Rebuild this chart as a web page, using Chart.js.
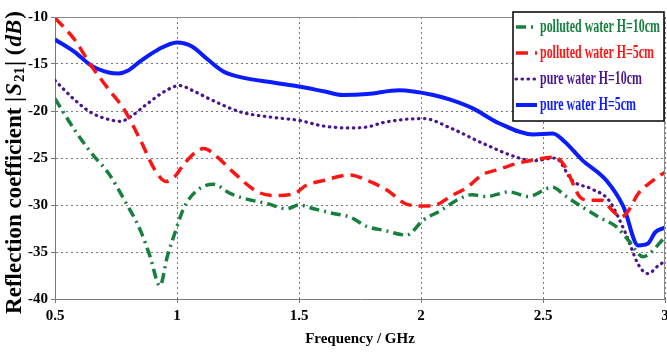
<!DOCTYPE html>
<html>
<head>
<meta charset="utf-8">
<script src="https://cdn.jsdelivr.net/npm/chart.js@4.4.1/dist/chart.umd.min.js"></script>
<style>
  body { margin: 0; background: #fff; }
  #wrap { width: 667px; height: 352px; }
</style>
</head>
<body>
<div id="wrap"><canvas id="myChart" width="667" height="352"></canvas></div>
<script>
// tick labels
const xTicks = [0.5, 1, 1.5, 2, 2.5, 3];
const yTicks = [-10, -15, -20, -25, -30, -35, -40];

// polluted water H=10cm
const freqGreen = [0.5,0.58,0.65,0.72,0.785,0.85,0.89,0.93,0.96,0.995,1.03,1.085,1.15,1.22,1.29,1.37,1.45,1.5,1.56,1.64,1.71,1.78,1.85,1.94,2.01,2.08,2.146,2.21,2.27,2.36,2.44,2.54,2.59,2.66,2.73,2.80,2.85,2.91,2.935,3.0];
const dbGreen = [-18.7,-22.0,-24.5,-26.65,-29.5,-32.7,-35.5,-38.6,-35.5,-32.7,-30.2,-28.4,-27.8,-28.8,-29.4,-29.85,-30.4,-30.0,-30.4,-30.9,-31.3,-32.3,-32.7,-33.2,-31.6,-30.6,-29.5,-28.9,-29.1,-28.6,-29.1,-28.1,-29.0,-30.2,-31.3,-32.3,-33.75,-35.5,-35.2,-33.4];

// polluted water H=5cm
const freqRed = [0.5,0.58,0.65,0.72,0.785,0.85,0.91,0.955,0.99,1.03,1.085,1.11,1.165,1.23,1.33,1.40,1.48,1.53,1.60,1.71,1.78,1.86,1.94,2.01,2.06,2.12,2.19,2.25,2.32,2.39,2.46,2.55,2.59,2.65,2.69,2.74,2.785,2.82,2.85,2.89,2.95,3.0];
const dbRed = [-10.1,-12.4,-15.25,-17.7,-19.9,-23.1,-26.3,-27.5,-27.0,-25.6,-24.2,-24.0,-24.9,-26.5,-28.6,-29.0,-28.8,-27.9,-27.4,-26.8,-27.4,-28.4,-29.9,-30.1,-30.0,-29.1,-28.1,-26.8,-26.2,-25.6,-25.2,-24.9,-25.9,-29.1,-29.5,-29.5,-30.6,-31.3,-30.6,-28.8,-27.4,-26.5];

// pure water H=10cm
const freqPurple = [0.5,0.58,0.65,0.72,0.77,0.81,0.88,0.95,1.01,1.07,1.14,1.26,1.4,1.5,1.6,1.7,1.78,1.85,2.01,2.12,2.25,2.39,2.46,2.55,2.62,2.70,2.77,2.84,2.89,2.93,2.975,3.0];
const dbPurple = [-16.75,-18.8,-20.2,-20.9,-21.1,-20.6,-19.2,-17.9,-17.3,-17.9,-18.8,-20.1,-20.7,-21.0,-21.6,-21.8,-21.7,-21.2,-20.8,-21.8,-23.4,-24.9,-25.3,-25.0,-27.4,-28.3,-29.5,-33.1,-36.3,-37.3,-36.4,-36.0];

// pure water H=5cm
const freqBlue = [0.5,0.58,0.65,0.72,0.76,0.80,0.85,0.92,1.0,1.06,1.125,1.19,1.26,1.4,1.5,1.6,1.68,1.78,1.91,2.05,2.12,2.21,2.32,2.46,2.54,2.59,2.66,2.76,2.83,2.89,2.93,2.96,3.0];
const dbBlue = [-12.4,-13.7,-15.2,-15.9,-16.0,-15.7,-14.7,-13.5,-12.7,-13.1,-14.5,-15.8,-16.4,-17.0,-17.4,-17.9,-18.3,-18.2,-17.8,-18.3,-18.8,-19.7,-21.3,-22.5,-22.4,-23.3,-25.2,-27.4,-30.2,-34.3,-34.1,-32.9,-32.4];

const seriesNames = ["polluted water H=10cm", "polluted water H=5cm", "pure water H=10cm", "pure water H=5cm"];

function pts(xs, ys) {
  return xs.map((x, i) => ({ x: x, y: ys[i] }));
}

const serif = "'Liberation Serif', 'Times New Roman', serif";

const datasets = [
  { label: seriesNames[0], data: pts(freqGreen, dbGreen), borderColor: "#17803f", borderWidth: 3.5, borderDash: [10, 5, 2, 5] },
  { label: seriesNames[1], data: pts(freqRed, dbRed), borderColor: "#ff1414", borderWidth: 3.5, borderDash: [12, 7] },
  { label: seriesNames[2], data: pts(freqPurple, dbPurple), borderColor: "#4a1690", borderWidth: 3.2, borderDash: [0.5, 5.5], borderCapStyle: "round" },
  { label: seriesNames[3], data: pts(freqBlue, dbBlue), borderColor: "#0b1cff", borderWidth: 4 }
];

// frame, legend box, and the y title with subscript
const extras = {
  id: "extras",
  afterDraw(chart) {
    const ctx = chart.ctx;
    const a = chart.chartArea;
    ctx.save();
    // top + right frame
    ctx.strokeStyle = "#8a8a8a";
    ctx.lineWidth = 1;
    ctx.beginPath();
    ctx.moveTo(a.left, a.top + 0.5);
    ctx.lineTo(a.right - 0.5, a.top + 0.5);
    ctx.lineTo(a.right - 0.5, a.bottom);
    ctx.stroke();

    // legend
    const bx = 513, by = 12, bw = 151, bh = 109;
    ctx.fillStyle = "#fff";
    ctx.fillRect(bx, by, bw, bh);
    ctx.strokeStyle = "#000";
    ctx.lineWidth = 1.5;
    ctx.strokeRect(bx, by, bw, bh);
    ctx.textBaseline = "middle";
    ctx.font = "bold 18px " + serif;
    // squeeze all entries the same way so the longest one fits
    const longest = Math.max(...datasets.map(d => ctx.measureText(d.label).width));
    const s = Math.min(1, (bw - 31) / longest);
    datasets.forEach((d, i) => {
      const y = by + 15 + i * 26;
      ctx.strokeStyle = d.borderColor;
      ctx.lineWidth = d.borderWidth;
      ctx.lineCap = d.borderCapStyle || "butt";
      ctx.setLineDash(d.borderDash || []);
      ctx.beginPath();
      ctx.moveTo(bx + 3, y);
      ctx.lineTo(bx + 24, y);
      ctx.stroke();
      ctx.setLineDash([]);
      ctx.fillStyle = d.borderColor;
      ctx.save();
      ctx.translate(bx + 27, y);
      ctx.scale(s, 1);
      ctx.fillText(d.label, 0, 0);
      ctx.restore();
    });

    // y axis title
    ctx.translate(15, 162);
    ctx.rotate(-Math.PI / 2);
    ctx.fillStyle = "#000";
    ctx.textBaseline = "middle";
    const parts = [
      { t: "Reflection coefficient |", f: "bold 23px " + serif, dy: 0 },
      { t: "S", f: "italic bold 23px " + serif, dy: 0 },
      { t: "21", f: "bold 15px " + serif, dy: 5 },
      { t: "| (", f: "bold 23px " + serif, dy: 0 },
      { t: "dB", f: "italic bold 23px " + serif, dy: 0 },
      { t: ")", f: "bold 23px " + serif, dy: 0 }
    ];
    let total = 0;
    parts.forEach(p => { ctx.font = p.f; p.w = ctx.measureText(p.t).width; total += p.w + 1; });
    let x = -total / 2;
    parts.forEach(p => {
      ctx.font = p.f;
      ctx.fillText(p.t, x, p.dy);
      x += p.w + 1;
    });
    ctx.restore();
  }
};

const gridOpts = { color: "#7a7a7a", tickLength: 4, tickBorderDash: [], tickColor: "#7a7a7a" };
const borderOpts = { color: "#7a7a7a", width: 1, dash: [2, 3] };
const tickFont = { family: serif, weight: "bold", size: 15 };

const config = {
  type: "line",
  data: { datasets: datasets },
  options: {
    responsive: false,
    animation: false,
    layout: { padding: { top: 17, right: 2, bottom: 0, left: 0 } },
    elements: { point: { radius: 0 }, line: { cubicInterpolationMode: "monotone", fill: false } },
    plugins: { legend: { display: false }, tooltip: { enabled: false } },
    scales: {
      x: {
        type: "linear",
        min: 0.5,
        max: 3,
        afterBuildTicks(scale) { scale.ticks = xTicks.map(v => ({ value: v })); },
        afterFit(scale) { scale.height = 53; scale.paddingLeft = 0; scale.paddingRight = 0; },
        ticks: { color: "#000", font: tickFont, padding: 4, maxRotation: 0, callback: v => String(v) },
        grid: gridOpts,
        border: borderOpts,
        title: { display: true, text: "Frequency / GHz", color: "#000", font: { family: serif, weight: "bold", size: 15 }, padding: { top: 3 } }
      },
      y: {
        min: -40,
        max: -10,
        afterBuildTicks(scale) { scale.ticks = yTicks.map(v => ({ value: v })); },
        afterFit(scale) { scale.width = 55; },
        ticks: { color: "#000", font: tickFont, padding: 3, callback: v => String(v) },
        grid: gridOpts,
        border: borderOpts
      }
    }
  },
  plugins: [extras]
};

new Chart(document.getElementById("myChart"), config);
</script>
</body>
</html>
